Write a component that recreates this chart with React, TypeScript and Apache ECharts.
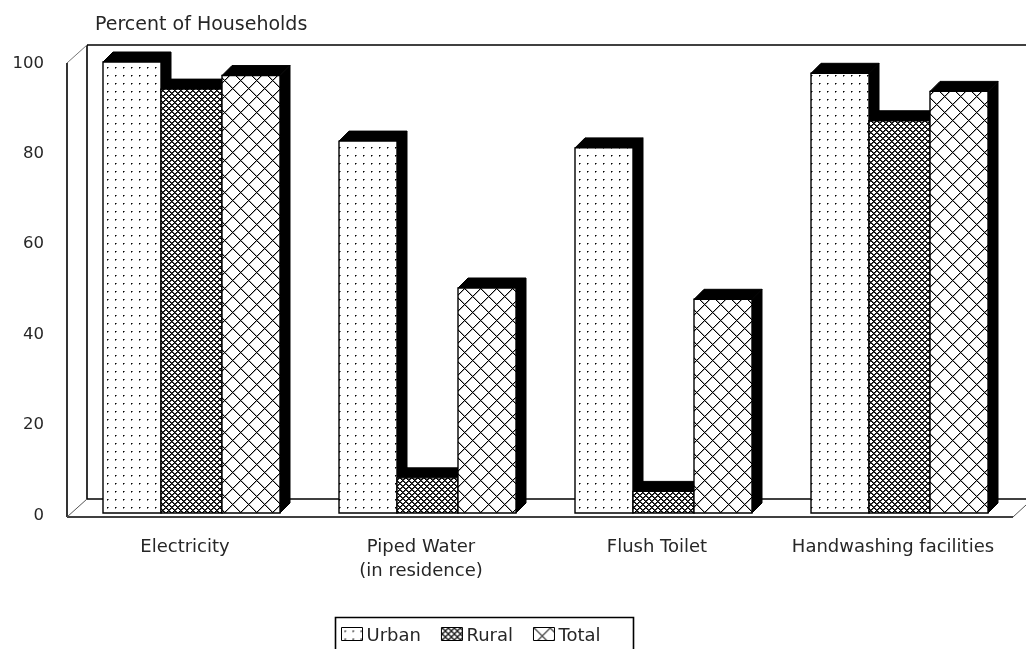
import React, { useEffect, useRef } from "react";
import * as echarts from "echarts";

const categories = ["Electricity", "Piped Water\n(in residence)", "Flush Toilet", "Handwashing facilities"];
const urbanValues = [100, 82.5, 81, 97.5];
const ruralValues = [94, 8, 5, 87];
const totalValues = [97, 50, 47.5, 93.5];
const seriesNames = ["Urban", "Rural", "Total"];
const yTicks = [0, 20, 40, 60, 80, 100];
const yTitle = "Percent of Households";

const FONT = "'DejaVu Sans'";
const TEXT = "#262626";

function makePattern(size: number, draw: (c: CanvasRenderingContext2D) => void) {
  const cv = document.createElement("canvas");
  cv.width = size;
  cv.height = size;
  const c = cv.getContext("2d")!;
  c.fillStyle = "#fff";
  c.fillRect(0, 0, size, size);
  draw(c);
  return { image: cv.toDataURL(), imageWidth: size, imageHeight: size, repeat: "repeat" };
}

function px(c: CanvasRenderingContext2D, x: number, y: number, col = "#000") {
  c.fillStyle = col;
  c.fillRect(x, y, 1, 1);
}

function buildPatterns() {
  const dots = makePattern(16, (c) => {
    [[3, 3], [11, 11], [11, 3], [3, 11]].forEach(([x, y]) => {
      px(c, x, y, "#000");
      px(c, x + 1, y, "#777");
      px(c, x, y + 1, "#777");
    });
  });
  const dense = makePattern(6, (c) => {
    for (let y = 0; y < 6; y++) {
      for (let x = 0; x < 6; x++) {
        if ((x + y) % 6 < 1 || (x - y + 6) % 6 < 1) px(c, x, y, "#000");
        else if ((x + y) % 6 === 1 || (x - y + 6) % 6 === 1) px(c, x, y, "#444");
      }
    }
  });
  const hatch = makePattern(16, (c) => {
    for (let i = 0; i < 16; i++) {
      px(c, (i + 1) % 16, i, "#aaa");
      px(c, (17 - i) % 16, i, "#aaa");
    }
    for (let i = 0; i < 16; i++) {
      px(c, i, i, "#000");
      px(c, (16 - i) % 16, i, "#000");
    }
  });
  return [dots, dense, hatch];
}

const GRID = { left: 67, width: 944, top: 62, height: 452 };
const DEPTH = 10;
const BAR_STARTS = [-82, -24, 37];
const BAR_WIDTHS = [58, 61, 58];

export default function App() {
  const ref = useRef<HTMLDivElement>(null);
  useEffect(() => {
    const chart = echarts.init(ref.current!, undefined, { renderer: "svg" });
    const patterns = buildPatterns();
    const seriesData = [urbanValues, ruralValues, totalValues];

    const renderBar = (s: number) => (_p: any, api: any) => {
      const cat = api.value(0);
      const [cx, yTop] = api.coord([cat, api.value(1)]);
      const [, y0Raw] = api.coord([cat, 0]);
      const y0 = y0Raw - 1;
      const x = cx + BAR_STARTS[s];
      const w = BAR_WIDTHS[s];
      const black = { fill: "#000", stroke: "#000", lineWidth: 1 };
      return {
        type: "group",
        children: [
          {
            type: "polygon",
            shape: { points: [[x + w, yTop], [x + w + DEPTH, yTop - DEPTH], [x + w + DEPTH, y0 - DEPTH], [x + w, y0]] },
            style: black,
          },
          {
            type: "polygon",
            shape: { points: [[x, yTop], [x + DEPTH, yTop - DEPTH], [x + w + DEPTH, yTop - DEPTH], [x + w, yTop]] },
            style: black,
          },
          {
            type: "rect",
            shape: { x: x, y: yTop, width: w, height: y0 - yTop },
            style: { fill: patterns[s], stroke: "#000", lineWidth: 1.4 },
          },
        ],
      };
    };

    const L = { stroke: "#000", lineWidth: 1.6 };
    const line = (x1: number, y1: number, x2: number, y2: number, st: any = L) => ({
      type: "line",
      silent: true,
      z: 0,
      shape: { x1, y1, x2, y2 },
      style: st,
    });

    chart.setOption({
      animation: false,
      backgroundColor: "#fff",
      grid: { left: GRID.left, width: GRID.width, top: GRID.top, height: GRID.height },
      xAxis: {
        type: "category",
        data: categories,
        axisLine: { show: false },
        axisTick: { show: false },
        axisLabel: {
          interval: 0,
          margin: 19,
          fontFamily: FONT,
          fontSize: 18,
          lineHeight: 24,
          color: TEXT,
          verticalAlign: "top",
        },
      },
      yAxis: {
        type: "value",
        min: yTicks[0],
        max: yTicks[yTicks.length - 1],
        interval: 20,
        splitLine: { show: false },
        axisLine: { show: false },
        axisTick: { show: false },
        axisLabel: { margin: 23, fontFamily: FONT, fontSize: 16.5, color: TEXT },
      },
      legend: {
        left: 341,
        top: 625,
        padding: 0,
        itemWidth: 21,
        itemHeight: 13,
        itemGap: 20,
        icon: "rect",
        selectedMode: false,
        textStyle: { fontFamily: FONT, fontSize: 18, color: TEXT, padding: [0, 0, 3, -1] },
        data: seriesNames.map((name, i) => ({
          name,
          icon: "rect",
          itemStyle: { color: patterns[i], borderColor: "#000", borderWidth: 1 },
        })),
      },
      graphic: [
        { type: "text", x: 95, y: 13, silent: true, style: { text: yTitle, fontFamily: FONT, fontSize: 19, fill: TEXT } },
        line(87, 45, 1026, 45),
        line(87, 45, 87, 499),
        line(87, 499, 1026, 499),
        line(67, 63, 67, 517),
        line(67, 517, 1013, 517),
        line(67, 63, 87, 45, { stroke: "#777", lineWidth: 1 }),
        line(67, 517, 87, 499, { stroke: "#555", lineWidth: 1 }),
        line(1013, 517, 1026, 505, { stroke: "#555", lineWidth: 1 }),
        {
          type: "rect",
          silent: true,
          shape: { x: 335.5, y: 617.5, width: 298, height: 40 },
          style: { fill: "#fff", stroke: "#000", lineWidth: 1.6 },
        },
      ],
      series: seriesNames.map((name, s) => ({
        name,
        type: "custom",
        z: 5 + s,
        clip: false,
        itemStyle: { color: patterns[s] },
        encode: { x: 0, y: 1 },
        data: seriesData[s].map((v, i) => [i, v]),
        renderItem: renderBar(s),
      })),
    });
    return () => chart.dispose();
  }, []);
  return (
    <div
      ref={ref}
      style={{ position: "fixed", left: 0, top: 0, width: 1026, height: 649, filter: "blur(0.4px)" }}
    />
  );
}
